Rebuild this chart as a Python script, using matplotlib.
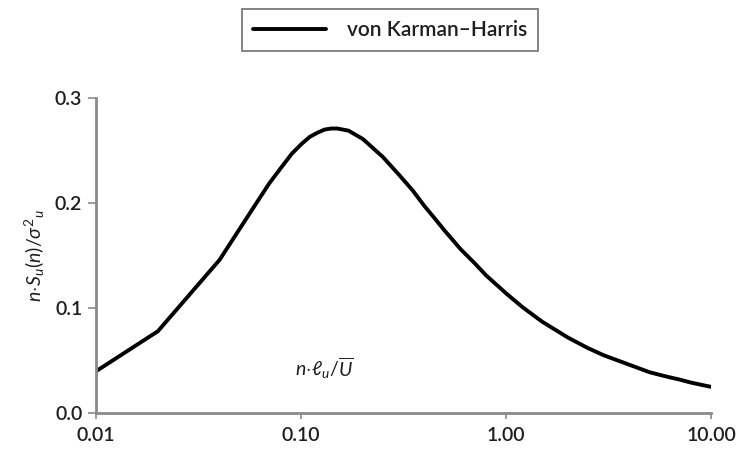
import matplotlib
matplotlib.use("Agg")
import matplotlib.pyplot as plt
from matplotlib.ticker import FixedLocator, FixedFormatter, NullLocator

plt.rcParams['font.family'] = ['Lato', 'DejaVu Sans']
plt.rcParams['mathtext.fontset'] = 'custom'
plt.rcParams['mathtext.rm'] = 'Lato'
plt.rcParams['mathtext.it'] = 'Lato:italic'
plt.rcParams['mathtext.bf'] = 'Lato:bold'

# Data
x_vals = [0.01, 0.02, 0.04, 0.06, 0.07, 0.08, 0.09, 0.10, 0.11, 0.12, 0.13, 0.14, 0.15,
          0.17, 0.20, 0.25, 0.30, 0.35, 0.40, 0.45, 0.50, 0.60, 0.70, 0.80, 1.00,
          1.20, 1.50, 2.00, 2.50, 3.00, 4.00, 5.00, 6.00, 7.00, 8.00, 10.00]
y_vals = [0.040, 0.078, 0.146, 0.199, 0.219, 0.234, 0.247, 0.256, 0.263, 0.267, 0.270, 0.271, 0.271,
          0.269, 0.261, 0.244, 0.227, 0.212, 0.197, 0.185, 0.174, 0.156, 0.143, 0.131, 0.114,
          0.101, 0.087, 0.072, 0.062, 0.055, 0.046, 0.039, 0.035, 0.032, 0.029, 0.025]
series_name = "von Karman\u2013Harris"
x_ticks = [0.01, 0.1, 1, 10]
x_ticklabels = ["0.01", "0.10", "1.00", "10.00"]
y_ticks = [0.0, 0.1, 0.2, 0.3]
y_ticklabels = ["0.0", "0.1", "0.2", "0.3"]

fig = plt.figure(figsize=(7.4, 4.54), dpi=100)
ax = fig.add_axes([0.130, 0.090, 0.831, 0.694])

line, = ax.plot(x_vals, y_vals, color='black', lw=2.8, solid_joinstyle='round',
                solid_capstyle='round', label=series_name)

ax.set_xscale('log')
ax.set_xlim(0.01, 10)
ax.set_ylim(0, 0.3)
ax.xaxis.set_major_locator(FixedLocator(x_ticks))
ax.xaxis.set_major_formatter(FixedFormatter(x_ticklabels))
ax.xaxis.set_minor_locator(NullLocator())
ax.yaxis.set_major_locator(FixedLocator(y_ticks))
ax.yaxis.set_major_formatter(FixedFormatter(y_ticklabels))

axis_col = '#8a8a8a'
for s in ['top', 'right']:
    ax.spines[s].set_visible(False)
for s in ['left', 'bottom']:
    ax.spines[s].set_color(axis_col)
    ax.spines[s].set_linewidth(2.0)
ax.tick_params(axis='both', colors=axis_col, labelcolor='#1e1e1e', labelsize=14,
               width=1.2)
for lab in ax.get_xticklabels() + ax.get_yticklabels():
    lab.set_fontweight('semibold')
ax.tick_params(axis='y', length=6, direction='out', pad=4)
ax.tick_params(axis='x', length=4, direction='out', pad=6)

ax.set_ylabel(r'$n\!\cdot\!S_u(n)/\sigma^2{}_u$', fontsize=14, color='#1e1e1e',
              labelpad=6)
ax.text(0.371, 0.143, r'$n\!\cdot\!\ell_u/\overline{U}$', transform=ax.transAxes,
        fontsize=14, color='#1e1e1e', ha='center', va='center')

leg = fig.legend(handles=[line], loc='center', bbox_to_anchor=(0.527, 0.934),
                 frameon=True, fancybox=False, fontsize=15, handlelength=3.5,
                 handletextpad=1.0, borderpad=0.55, borderaxespad=0)
leg.get_frame().set_edgecolor('#666666')
leg.get_frame().set_linewidth(1.4)
for t in leg.get_texts():
    t.set_color('#1e1e1e')
    t.set_fontweight('semibold')

fig.savefig('out.png', dpi=100)
